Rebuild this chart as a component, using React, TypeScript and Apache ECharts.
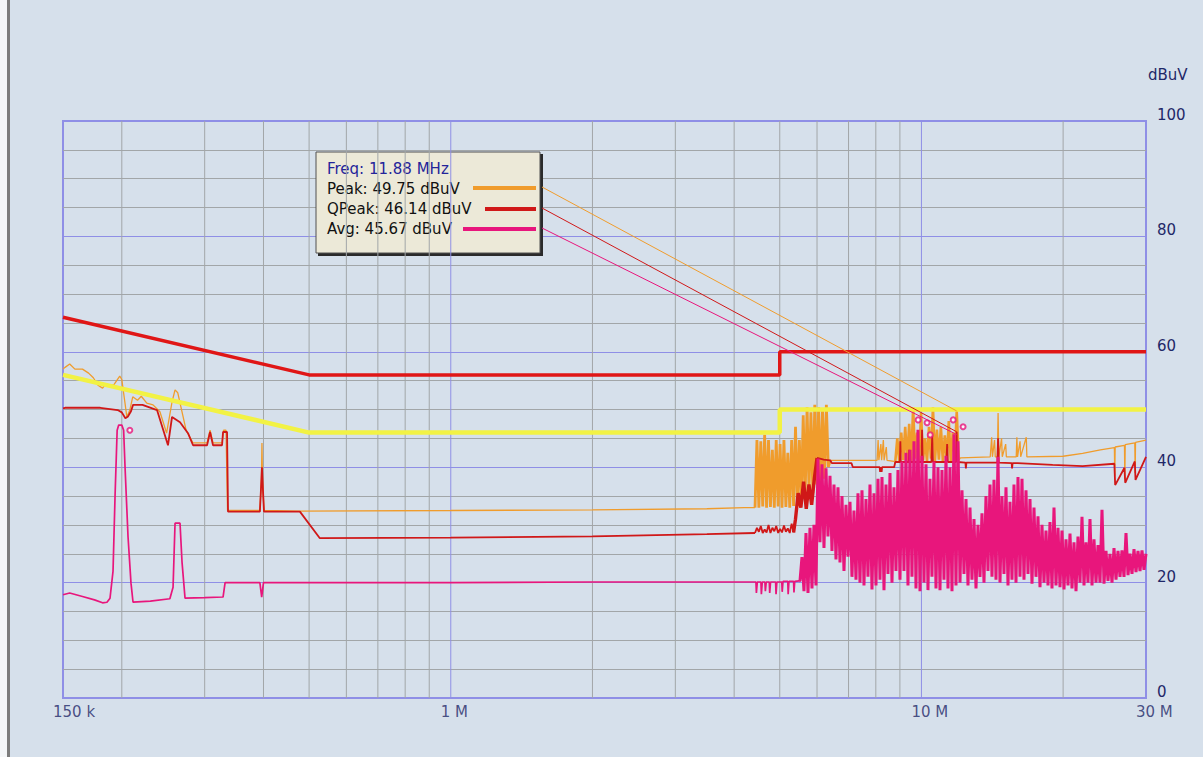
import React, { useEffect, useRef } from "react";
import * as echarts from "echarts";

const W = 1203;
const H = 757;

// ---------- axes ----------
const xMinMHz = 0.15;
const xMaxMHz = 30;
const yMin = 0;
const yMax = 100;
const yStep = 20;
const yMinorSplits = 4;
const yUnit = "dBuV";
const xTickValues = [0.15, 1, 10, 30];
const xTickLabels = ["150 k", "1 M", "10 M", "30 M"];
const xMinorGrid = [0.2, 0.3, 0.4, 0.5, 0.6, 0.7, 0.8, 0.9, 2, 3, 4, 5, 6, 7, 8, 9, 20];
const xMajorGrid = [1, 10];

// ---------- limit lines (MHz, dBuV) ----------
const qpLimit: [number, number][] = [[0.15, 66], [0.5, 56], [5, 56], [5, 60], [30, 60]];
const avgLimit: [number, number][] = [[0.15, 56], [0.5, 46], [5, 46], [5, 50], [30, 50]];

// ---------- marker readout ----------
const markerFreq = 11.88;
const markerPeak = 49.75;
const markerQPeak = 46.14;
const markerAvg = 45.67;

// ---------- Peak trace ----------
const peakA: [number, number][] = [
  [0.15, 57.0], [0.1515, 57.3], [0.155, 57.9], [0.159, 57.0], [0.165, 57.0], [0.17, 56.3], [0.174, 55.5],
  [0.178, 54.2], [0.182, 53.7], [0.184, 54.2], [0.192, 54.2], [0.198, 55.8], [0.2, 55.2], [0.203, 51.3],
  [0.205, 48.7], [0.208, 49.9], [0.211, 52.2], [0.216, 51.6], [0.22, 52.3], [0.226, 51.1], [0.233, 50.8],
  [0.241, 49.6], [0.249, 45.9], [0.2557, 51.3], [0.2595, 53.4], [0.263, 52.9], [0.268, 49.9], [0.274, 46.4],
  [0.2834, 44.2], [0.3035, 44.2], [0.308, 46.4], [0.3125, 44.2], [0.3266, 44.2], [0.329, 46.4], [0.333, 46.4],
  [0.3355, 32.5], [0.393, 32.5], [0.396, 38.0], [0.397, 44.2], [0.398, 38.0], [0.401, 32.5], [0.478, 32.4],
  [1.0, 32.5], [2.0, 32.6], [3.5, 32.8], [4.2, 33.0], [4.43, 33.0],
];
const peakDense1 = [
  33.0, 44.7, 33.0, 44.5, 33.2, 45.6, 33.0, 44.7, 33.1, 43.0, 33.0, 44.7, 33.2, 44.0, 33.0, 44.7, 33.1, 42.5,
  33.0, 44.7, 33.3, 47.0, 33.2, 44.7, 34.0, 49.0, 35.0, 50.4, 36.0, 49.5, 35.5, 50.8, 37.0, 50.4, 36.5, 50.0,
  38.0, 50.8, 40.0, 41.2,
];
const peakB: [number, number][] = [
  [6.45, 41.2], [8.05, 41.2], [8.09, 44.7], [8.12, 41.2], [8.2, 44.0], [8.23, 41.2], [8.3, 44.7], [8.33, 41.2],
  [8.42, 43.5], [8.45, 41.2], [8.75, 41.0],
];
const peakDense2 = [
  41.0, 45.0, 41.0, 46.0, 41.2, 47.0, 41.0, 47.5, 41.0, 50.4, 41.5, 46.0, 41.0, 49.4, 41.2, 45.0, 41.0, 47.0,
  41.5, 50.4, 41.0, 46.5, 41.3, 47.0, 41.0, 45.5, 41.2, 48.0, 41.0, 46.0, 41.5, 49.75, 41.2,
];
const peakC: [number, number][] = [
  [12.1, 41.6], [14.0, 41.8], [14.1, 45.2], [14.15, 41.8], [14.3, 44.7], [14.35, 41.8], [14.5, 41.8],
  [14.55, 49.4], [14.6, 41.8], [14.8, 45.0], [14.85, 41.8], [15.1, 44.0], [15.15, 41.8], [15.9, 41.8],
  [15.95, 45.2], [16.0, 41.8], [16.2, 44.5], [16.25, 41.8], [16.7, 45.2], [16.75, 41.8], [20.0, 41.9],
  [22.0, 42.4], [24.0, 43.0], [25.7, 43.4], [25.75, 38.5], [25.8, 43.5], [27.0, 43.8], [27.05, 38.0],
  [27.1, 43.9], [28.4, 44.2], [28.45, 39.0], [28.5, 44.3], [30.0, 44.7],
];

// ---------- QPeak trace ----------
const qpA: [number, number][] = [
  [0.15, 50.2], [0.1515, 50.3], [0.165, 50.3], [0.18, 50.3], [0.196, 49.9], [0.2, 49.5], [0.2035, 48.5],
  [0.2062, 48.8], [0.2092, 49.7], [0.2113, 50.8], [0.2213, 50.8], [0.2376, 49.9], [0.2507, 43.8],
  [0.2557, 48.7], [0.2659, 47.8], [0.2765, 45.9], [0.2834, 43.8], [0.3035, 43.8], [0.308, 46.1],
  [0.3125, 43.8], [0.3266, 43.8], [0.3282, 46.1], [0.3347, 46.1], [0.3363, 32.3], [0.393, 32.3],
  [0.395, 36.0], [0.397, 40.0], [0.399, 36.0], [0.401, 32.3], [0.478, 32.3], [0.527, 27.7], [1.0, 27.8],
  [2.0, 28.0], [3.5, 28.4], [4.43, 28.6],
];
const qpDense1 = [
  28.6, 29.5, 28.8, 29.8, 28.6, 29.2, 28.7, 30.0, 28.6, 29.5, 28.9, 29.8, 28.6, 29.3, 28.7, 29.9, 28.8, 29.4,
  28.6, 30.2, 28.7,
];
const qpDense2 = [31.0, 35.5, 33.0, 37.5, 32.8, 37.0, 33.5, 38.0, 41.6];
const qpC: [number, number][] = [
  [6.2, 41.3], [6.4, 41.2], [6.45, 40.7], [7.1, 40.7], [7.15, 40.0], [8.15, 40.0], [8.17, 39.2], [8.19, 40.0],
  [8.23, 39.2], [8.25, 40.0], [8.75, 40.0], [8.8, 40.9], [9.0, 40.9], [9.02, 44.5], [9.04, 40.9], [9.4, 40.9],
  [9.42, 43.0], [9.44, 40.9], [10.0, 40.9], [10.03, 46.5], [10.06, 40.9], [10.5, 40.9], [10.54, 45.5],
  [10.58, 40.9], [11.3, 40.9], [11.34, 44.0], [11.38, 40.9], [11.84, 40.9], [11.88, 46.14], [11.92, 40.9],
  [12.4, 40.8], [12.43, 39.8], [12.46, 40.8], [14.5, 40.8], [14.55, 45.0], [14.6, 40.8], [15.55, 40.7],
  [15.58, 39.8], [15.62, 40.7], [16.0, 40.7], [19.0, 40.4], [22.0, 40.2], [25.7, 40.6], [25.8, 36.9],
  [27.0, 39.9], [27.1, 37.3], [28.4, 41.0], [28.5, 37.8], [30.0, 41.8],
];

// ---------- Avg trace ----------
const avgA: [number, number][] = [
  [0.15, 17.9], [0.155, 18.2], [0.165, 17.6], [0.175, 17.0], [0.182, 16.5], [0.186, 16.6], [0.1888, 17.3],
  [0.1916, 22.0], [0.1935, 35.0], [0.1955, 46.4], [0.197, 47.3], [0.2, 47.3], [0.2018, 46.4], [0.2032, 40.0],
  [0.2062, 27.9], [0.2092, 19.9], [0.2113, 16.6], [0.23, 16.8], [0.253, 17.2], [0.257, 19.2], [0.2595, 30.3],
  [0.2659, 30.3], [0.2685, 23.6], [0.2725, 17.3], [0.3, 17.4], [0.3282, 17.5], [0.3315, 20.0], [0.393, 20.0],
  [0.3965, 17.5], [0.4, 20.0], [1.0, 20.0], [2.0, 20.1], [4.43, 20.1],
];
const avgB: [number, number][] = [
  [4.45, 20.1], [4.46, 18.2], [4.48, 20.1], [4.56, 20.1], [4.57, 18.0], [4.59, 20.1], [4.65, 20.1],
  [4.66, 18.5], [4.68, 20.1], [4.75, 20.1], [4.76, 18.2], [4.78, 20.1], [4.9, 20.1], [4.91, 18.0],
  [4.93, 20.1], [5.05, 20.1], [5.06, 18.4], [5.08, 20.2], [5.2, 20.2], [5.21, 18.0], [5.23, 20.2],
  [5.35, 20.2], [5.36, 18.3], [5.38, 20.2], [5.5, 20.3],
];
const avgDense = [
  20.3, 24.4, 18.5, 28.6, 18.2, 29.5, 19.0, 30.0, 19.5, 41.5,
  27.0, 40.5, 26.0, 39.8, 28.0, 38.5, 25.5, 37.0, 24.0, 36.5,
  23.5, 35.0, 22.0, 33.5, 24.5, 34.0, 21.0, 32.5, 20.5, 35.5,
  20.0, 36.0, 19.5, 34.5, 21.0, 37.0, 18.8, 35.5, 19.5, 38.0,
  20.5, 38.3, 18.7, 37.0, 21.5, 39.0, 20.0, 36.5, 22.0, 39.5,
  20.5, 41.0, 22.0, 42.5, 19.5, 43.0, 21.0, 44.5, 19.0, 46.5,
  18.5, 42.0, 20.0, 40.5, 18.7, 38.0, 21.0, 41.0, 19.0, 40.0,
  18.7, 39.5, 20.5, 42.0, 19.0, 40.0, 18.5, 45.7, 19.5, 44.5,
  20.0, 36.0, 21.5, 34.5, 19.5, 33.0, 20.5, 31.0, 19.0, 30.0,
  21.0, 32.0, 20.0, 35.0, 22.0, 37.0, 21.0, 37.8, 20.5, 41.8,
  20.0, 35.0, 21.5, 36.5, 19.5, 34.0, 20.5, 37.0, 20.0, 38.3,
  21.0, 38.0, 20.5, 36.0, 21.5, 34.5, 19.8, 33.0, 21.0, 31.5,
  19.2, 30.0, 20.0, 29.0, 19.5, 30.5, 19.0, 33.0, 19.5, 29.5,
  19.2, 29.0, 18.8, 27.5, 19.5, 28.5, 19.0, 27.0, 18.5, 28.0,
  20.0, 31.4, 19.5, 27.0, 20.0, 31.0, 19.5, 27.5, 20.0, 26.5,
  20.0, 32.6, 19.8, 25.5, 20.3, 25.0, 20.0, 26.0, 20.5, 25.5,
  21.0, 25.6, 21.0, 28.6, 21.3, 25.0, 21.5, 25.8, 21.8, 25.5,
  22.0, 25.6, 22.2, 25.0,
];

// detector markers (MHz, dBuV)
const avgMarks: [number, number][] = [[0.208, 46.4], [9.84, 48.2], [10.28, 47.7], [10.44, 45.6], [11.68, 48.2], [12.26, 47.0]];

// sweep points of the receiver: log-spaced frequency grid between two frequencies
const sweep = (f0: number, f1: number, vals: number[]): [number, number][] =>
  vals.map((v, i) => [f0 * Math.pow(f1 / f0, i / (vals.length - 1)), v]);

// ---------- colours ----------
const BG = "#d6e0eb";
const GRID_MAJOR = "#8f8fe6";
const GRID_MINOR = "#a2a6a8";
const LABEL = "#1f2868";
const PEAK = "#f09c2c";
const QPEAK = "#d01818";
const AVG = "#e8167c";
const QP_LIMIT = "#e01616";
const AVG_LIMIT = "#f2f244";
const FONT = "DejaVu Sans";

const line = (name: string, data: any[], color: string, width: number, z: number) => ({
  type: "line",
  name,
  data,
  symbol: "none",
  showSymbol: false,
  silent: true,
  z,
  lineStyle: { color, width },
});

// one trace drawn as contiguous pieces: thin where sparse, thicker where the sweep is dense
const trace = (name: string, parts: { data: [number, number][]; width: number }[], color: string, z: number) =>
  parts.map((p, i) => {
    const prev = i > 0 ? parts[i - 1].data[parts[i - 1].data.length - 1] : null;
    return line(name, prev ? [prev, ...p.data] : p.data, color, p.width, z);
  });

export default function App() {
  const ref = useRef<HTMLDivElement>(null);

  useEffect(() => {
    const chart = echarts.init(ref.current!, undefined, { renderer: "svg" });
    const gridSeries = [
      ...xMinorGrid.map((f) => line("g" + f, [[f, yMin], [f, yMax]], GRID_MINOR, 1, 1)),
      ...xMajorGrid.map((f) => line("G" + f, [[f, yMin], [f, yMax]], GRID_MAJOR, 1, 1)),
    ];
    const peakSeries = trace(
      "Peak",
      [
        { data: peakA, width: 1.3 },
        { data: sweep(4.43, 6.4, peakDense1), width: 2.8 },
        { data: peakB, width: 1.3 },
        { data: sweep(8.8, 12.0, peakDense2), width: 2.6 },
        { data: peakC, width: 1.3 },
      ],
      PEAK,
      3
    );
    const qpSeries = trace(
      "QPeak",
      [
        { data: qpA, width: 1.8 },
        { data: sweep(4.43, 5.35, qpDense1), width: 1.8 },
        { data: sweep(5.4, 6.0, qpDense2), width: 3.4 },
        { data: qpC, width: 1.8 },
      ],
      QPEAK,
      4
    );
    const avgSeries = trace(
      "Avg",
      [
        { data: [...avgA, ...avgB], width: 1.7 },
        { data: sweep(5.52, 30, avgDense), width: 3 },
      ],
      AVG,
      5
    );
    chart.setOption({
      animation: false,
      backgroundColor: BG,
      grid: {
        left: 63,
        top: 121,
        width: 1083,
        height: 577,
        show: true,
        borderColor: GRID_MAJOR,
        borderWidth: 2,
        backgroundColor: "transparent",
      },
      xAxis: {
        type: "log",
        logBase: 10,
        min: xMinMHz,
        max: xMaxMHz,
        axisLine: { show: false },
        axisTick: { show: false },
        axisLabel: { show: false },
        splitLine: { show: false },
      },
      yAxis: {
        type: "value",
        position: "right",
        min: yMin,
        max: yMax,
        interval: yStep,
        name: yUnit,
        nameLocation: "end",
        nameGap: 46,
        nameTextStyle: { color: LABEL, fontFamily: FONT, fontSize: 15, align: "left", verticalAlign: "middle", padding: [0, 0, 0, 2] },
        axisLine: { show: false },
        axisTick: { show: false },
        axisLabel: { color: LABEL, fontFamily: FONT, fontSize: 15, margin: 11, align: "left", verticalAlign: "bottom", lineHeight: 12 },
        splitLine: { show: true, lineStyle: { color: GRID_MAJOR, width: 1 } },
        minorTick: { show: false, splitNumber: yMinorSplits },
        minorSplitLine: { show: true, lineStyle: { color: GRID_MINOR, width: 1 } },
      },
      series: [
        ...gridSeries,
        ...peakSeries,
        ...qpSeries,
        ...avgSeries,
        line("Avg limit", avgLimit, AVG_LIMIT, 4.5, 6),
        line("QP limit", qpLimit, QP_LIMIT, 3.5, 7),
        {
          type: "scatter",
          name: "marks",
          data: avgMarks,
          symbol: "emptyCircle",
          symbolSize: 5,
          itemStyle: { color: AVG, borderColor: AVG, borderWidth: 1.5 },
          silent: true,
          z: 8,
        },
        {
          type: "scatter",
          name: "xlabels",
          data: xTickValues.map((v) => [v, yMin]),
          symbolSize: 0,
          silent: true,
          clip: false,
          z: 9,
          label: {
            show: true,
            position: "inside",
            align: "left",
            verticalAlign: "middle",
            offset: [-10, 14],
            color: LABEL,
            fontFamily: FONT,
            fontSize: 15,
            formatter: (p: any) => xTickLabels[p.dataIndex],
          },
        },
      ],
    });

    const px = (f: number, v: number) => chart.convertToPixel({ gridIndex: 0 }, [f, v]) as number[];
    const pPeak = px(markerFreq, markerPeak);
    const pQ = px(markerFreq, markerQPeak);
    const pA = px(markerFreq, markerAvg);
    const bx = 316;
    const by = 152;
    const txt = (text: string, y: number, fill: string) => ({
      type: "text",
      x: 11,
      y,
      style: { text, fill, font: `15px "${FONT}"`, verticalAlign: "middle", align: "left" },
    });
    chart.setOption({
      graphic: [
        { type: "rect", left: 0, top: 0, shape: { width: 7, height: H }, style: { fill: "#f4f6f8" }, z: 100 },
        { type: "rect", left: 7, top: 0, shape: { width: 3, height: H }, style: { fill: "#7c7c7c" }, z: 100 },
        { type: "line", shape: { x1: bx + 226, y1: 187, x2: pPeak[0], y2: pPeak[1] }, style: { stroke: PEAK, lineWidth: 1 }, z: 100 },
        { type: "line", shape: { x1: bx + 226, y1: 208, x2: pQ[0], y2: pQ[1] }, style: { stroke: QPEAK, lineWidth: 1 }, z: 100 },
        { type: "line", shape: { x1: bx + 226, y1: 228, x2: pA[0], y2: pA[1] }, style: { stroke: AVG, lineWidth: 1 }, z: 100 },
        {
          type: "group",
          x: bx,
          y: by,
          z: 101,
          children: [
            { type: "rect", shape: { x: 2, y: 2, width: 225, height: 102 }, style: { fill: "#2a2a2a" } },
            { type: "rect", shape: { x: 0, y: 0, width: 224, height: 101 }, style: { fill: "#ece9d8", stroke: "#505050", lineWidth: 1 } },
            txt(`Freq: ${markerFreq.toFixed(2)} MHz`, 17, "#24249a"),
            txt(`Peak: ${markerPeak.toFixed(2)} dBuV`, 37, "#111111"),
            txt(`QPeak: ${markerQPeak.toFixed(2)} dBuV`, 57, "#111111"),
            txt(`Avg: ${markerAvg.toFixed(2)} dBuV`, 77, "#111111"),
            { type: "line", shape: { x1: 157, y1: 36, x2: 220, y2: 36 }, style: { stroke: PEAK, lineWidth: 4 } },
            { type: "line", shape: { x1: 169, y1: 57, x2: 220, y2: 57 }, style: { stroke: QPEAK, lineWidth: 4 } },
            { type: "line", shape: { x1: 147, y1: 77, x2: 220, y2: 77 }, style: { stroke: AVG, lineWidth: 4 } },
          ],
        },
      ],
    });

    return () => chart.dispose();
  }, []);

  return <div ref={ref} style={{ position: "absolute", left: 0, top: 0, width: W, height: H }} />;
}
